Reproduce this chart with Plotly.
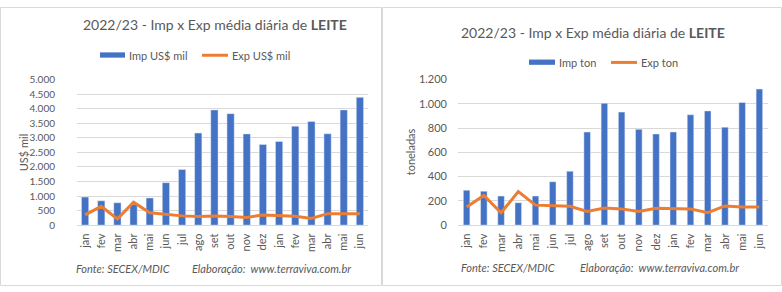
import plotly.graph_objects as go

months = ["jan", "fev", "mar", "abr", "mai", "jun", "jul", "ago", "set", "out", "nov", "dez",
          "jan", "fev", "mar", "abr", "mai", "jun"]
imp_usd = [965, 835, 770, 720, 935, 1460, 1910, 3165, 3960, 3830, 3135, 2775, 2875, 3400, 3565, 3140, 3960, 4390]
exp_usd = [350, 645, 215, 790, 425, 360, 318, 296, 318, 296, 263, 350, 318, 306, 230, 395, 395, 388]
imp_ton = [288, 280, 240, 185, 240, 358, 445, 768, 1005, 932, 790, 752, 768, 910, 942, 808, 1012, 1122]
exp_ton = [150, 244, 102, 276, 165, 158, 155, 113, 142, 134, 113, 140, 134, 134, 102, 158, 150, 150]

W, H = 782, 292
xs = list(range(len(months)))
BLUE = "#4472C4"
ORANGE = "#ED7D31"
GREY = "#595959"
GRID = "#D9D9D9"
FONT = "Lato"

fig = go.Figure()
fig.add_trace(go.Bar(x=xs, y=imp_usd, marker_color=BLUE, name="Imp US$ mil", xaxis="x", yaxis="y",
                     width=0.45))
fig.add_trace(go.Scatter(x=xs, y=exp_usd, mode="lines", line=dict(color=ORANGE, width=3),
                         name="Exp US$ mil", xaxis="x", yaxis="y"))
fig.add_trace(go.Bar(x=xs, y=imp_ton, marker_color=BLUE, name="Imp ton", xaxis="x2", yaxis="y2",
                     width=0.38))
fig.add_trace(go.Scatter(x=xs, y=exp_ton, mode="lines", line=dict(color=ORANGE, width=3),
                         name="Exp ton", xaxis="x2", yaxis="y2"))

def px(x):
    return x / W

def py(y):
    return 1 - y / H

xcommon = dict(tickmode="array", tickvals=xs, ticktext=months, tickangle=-90,
               range=[-0.5, len(months) - 0.5], showgrid=False, zeroline=False,
               showline=True, linecolor=GRID, linewidth=1, ticks="",
               tickfont=dict(family=FONT, size=11, color=GREY), ticklabelstandoff=3)
ycommon = dict(showgrid=True, gridcolor=GRID, gridwidth=1, zeroline=False, showline=False,
               ticks="", tickformat=",d")

fig.update_layout(
    width=W, height=H, margin=dict(l=0, r=0, t=0, b=0),
    paper_bgcolor="white", plot_bgcolor="white", showlegend=False,
    separators=",.", bargap=0.5,
    xaxis=dict(domain=[px(77), px(368)], anchor="y", **xcommon),
    yaxis=dict(domain=[py(228.3), py(76)], anchor="x", range=[0, 5000], dtick=500,
               ticklabelstandoff=21,
               tickfont=dict(family=FONT, size=10, color=GREY), **ycommon),
    xaxis2=dict(domain=[px(458), px(768)], anchor="y2", **xcommon),
    yaxis2=dict(domain=[py(228.3), py(76)], anchor="x2", range=[0, 1200], dtick=200,
                ticklabelstandoff=10, tickfont=dict(family=FONT, size=11, color=GREY), **ycommon),
)

shapes = [
    dict(type="rect", xref="paper", yref="paper", x0=px(0.5), x1=px(381.5), y0=py(291.5), y1=py(0.5),
         line=dict(color=GRID, width=1)),
    dict(type="rect", xref="paper", yref="paper", x0=px(382.5), x1=px(781.5), y0=py(291.5), y1=py(0.5),
         line=dict(color=GRID, width=1)),
    # legend swatches
    dict(type="rect", xref="paper", yref="paper", x0=px(100), x1=px(125), y0=py(53), y1=py(47.5),
         fillcolor=BLUE, line=dict(width=0)),
    dict(type="line", xref="paper", yref="paper", x0=px(202), x1=px(228), y0=py(50.5), y1=py(50.5),
         line=dict(color=ORANGE, width=3)),
    dict(type="rect", xref="paper", yref="paper", x0=px(529), x1=px(555), y0=py(60.5), y1=py(55),
         fillcolor=BLUE, line=dict(width=0)),
    dict(type="line", xref="paper", yref="paper", x0=px(611), x1=px(637), y0=py(58), y1=py(58),
         line=dict(color=ORANGE, width=3)),
]
fig.update_layout(shapes=shapes)

def ann(text, x, y, size=11, xanchor="left", angle=0, italic=False):
    return dict(text=text, x=px(x), y=py(y), xref="paper", yref="paper", showarrow=False,
                xanchor=xanchor, yanchor="middle", textangle=angle,
                font=dict(family=FONT, size=size, color=GREY, style="italic" if italic else "normal"))

annotations = [
    ann("2022/23 - Imp x Exp média diária de <b>LEITE</b>", 215, 18, size=14, xanchor="center"),
    ann("2022/23 - Imp x Exp média diária de <b>LEITE</b>", 593, 27, size=14, xanchor="center"),
    ann("Imp US$ mil", 127, 50.5),
    ann("Exp US$ mil", 230, 50.5),
    ann("Imp ton", 557, 58),
    ann("Exp ton", 639, 58),
    ann("US$ mil", 23, 152, xanchor="center", angle=-90),
    ann("toneladas", 410, 152, xanchor="center", angle=-90),
    ann("Fonte: SECEX/MDIC", 74, 274, italic=True),
    ann("Elaboração:  www.terraviva.com.br", 190, 274, italic=True),
    ann("Fonte: SECEX/MDIC", 459, 273, italic=True),
    ann("Elaboração:  www.terraviva.com.br", 578, 273, italic=True),
]
fig.update_layout(annotations=annotations)

fig.write_html("out.html")
